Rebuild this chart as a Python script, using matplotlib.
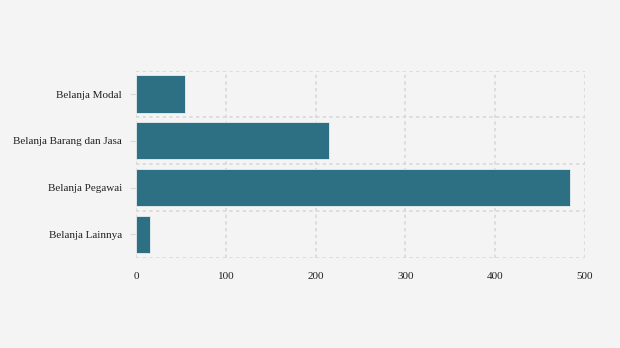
import numpy as np
import matplotlib
matplotlib.use("Agg")
import matplotlib.pyplot as plt

# --- data ---
categories = ["Belanja Modal", "Belanja Barang dan Jasa", "Belanja Pegawai", "Belanja Lainnya"]
values = [55, 215, 483, 16]
xticks = [0, 100, 200, 300, 400, 500]

bg = "#f4f4f4"
bar_color = "#2e7083"
grid_color = "#d9d9d9"

plt.rcParams["font.family"] = ["Liberation Serif", "DejaVu Serif"]

fig = plt.figure(figsize=(6.2, 3.48), dpi=100, facecolor=bg)
ax = fig.add_axes([0.2194, 0.2595, 0.7241, 0.5375], facecolor=bg)

pos = np.arange(len(categories))
ax.barh(pos, values, height=0.8, color=bar_color, edgecolor="#e8eef0", linewidth=0.6, zorder=3)

ax.set_ylim(len(categories) - 0.5, -0.5)
ax.set_xlim(0, 500)
ax.set_yticks(pos)
ax.set_yticklabels(categories)
ax.set_yticks(np.arange(-0.5, len(categories)), minor=True)
ax.set_xticks(xticks)
ax.set_xticklabels([str(t) for t in xticks])

ax.grid(True, axis="x", which="major", color=grid_color, linestyle=(0, (2, 2)), linewidth=1.2, zorder=0)
ax.grid(True, axis="y", which="minor", color=grid_color, linestyle=(0, (2, 2)), linewidth=1.2, zorder=0)

for s in ax.spines.values():
    s.set_visible(False)

ax.tick_params(axis="y", which="major", length=4, color=grid_color, labelsize=8, labelcolor="#222222", pad=6)
ax.tick_params(axis="y", which="minor", length=0)
ax.tick_params(axis="x", length=0, labelsize=8, labelcolor="#222222", pad=10)

fig.savefig("out.png", dpi=100, facecolor=bg)
